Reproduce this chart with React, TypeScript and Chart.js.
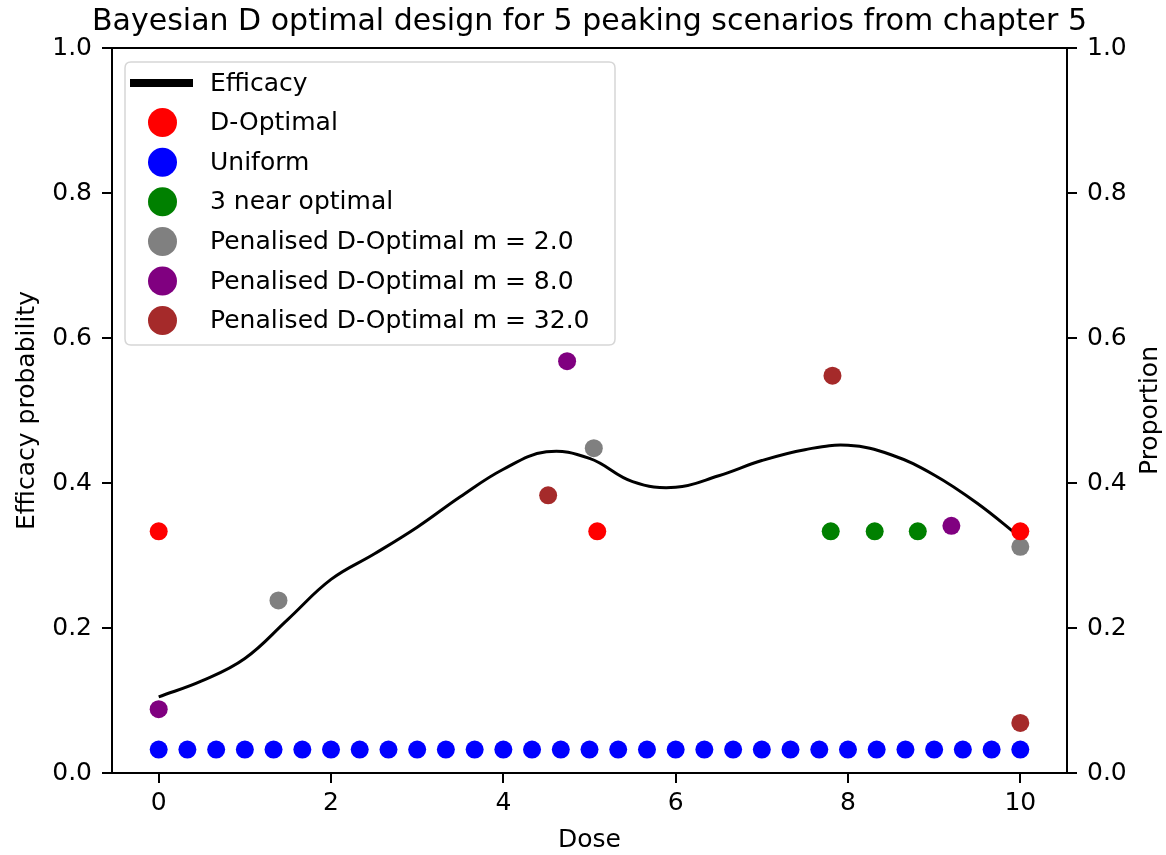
import React, { useEffect, useRef } from "react";
import { Chart, registerables } from "chart.js";

Chart.register(...registerables);

const TITLE = "Bayesian D optimal design for 5 peaking scenarios from chapter 5";
const X_TICKS = [0, 2, 4, 6, 8, 10];
const Y_TICKS = [0, 0.2, 0.4, 0.6, 0.8, 1.0];

const effDose = [0, 0.5, 1, 1.5, 2, 2.5, 3, 3.5, 4, 4.5, 5, 5.5, 6, 6.5, 7, 7.5, 8, 8.5, 9, 9.5, 10];
const effProb = [0.105, 0.127, 0.158, 0.212, 0.267, 0.302, 0.339, 0.381, 0.419, 0.443, 0.434, 0.402, 0.394, 0.410, 0.431, 0.446, 0.452, 0.439, 0.411, 0.372, 0.325];

const dOptDose = [0, 5.09, 10];
const dOptProp = [0.3333, 0.3333, 0.3333];

const uniformDose = [0, 0.333, 0.667, 1, 1.333, 1.667, 2, 2.333, 2.667, 3, 3.333, 3.667, 4, 4.333, 4.667, 5, 5.333, 5.667, 6, 6.333, 6.667, 7, 7.333, 7.667, 8, 8.333, 8.667, 9, 9.333, 9.667, 10];
const uniformProp = [0.0323, 0.0323, 0.0323, 0.0323, 0.0323, 0.0323, 0.0323, 0.0323, 0.0323, 0.0323, 0.0323, 0.0323, 0.0323, 0.0323, 0.0323, 0.0323, 0.0323, 0.0323, 0.0323, 0.0323, 0.0323, 0.0323, 0.0323, 0.0323, 0.0323, 0.0323, 0.0323, 0.0323, 0.0323, 0.0323, 0.0323];

const nearDose = [7.8, 8.31, 8.81];
const nearProp = [0.3333, 0.3333, 0.3333];

const pen2Dose = [1.39, 5.05, 10];
const pen2Prop = [0.238, 0.448, 0.312];

const pen8Dose = [0, 4.74, 9.2];
const pen8Prop = [0.088, 0.568, 0.341];

const pen32Dose = [4.52, 7.82, 10];
const pen32Prop = [0.383, 0.548, 0.069];

const FONT = "'DejaVu Sans', sans-serif";

const legendItems = [
  { label: "Efficacy", color: "#000000", line: true },
  { label: "D-Optimal", color: "#ff0000" },
  { label: "Uniform", color: "#0000ff" },
  { label: "3 near optimal", color: "#008000" },
  { label: "Penalised D-Optimal m = 2.0", color: "#808080" },
  { label: "Penalised D-Optimal m = 8.0", color: "#800080" },
  { label: "Penalised D-Optimal m = 32.0", color: "#a52a2a" },
];

const toPts = (xs: number[], ys: number[]) => xs.map((x, i) => ({ x, y: ys[i] }));

const decorPlugin = {
  id: "decor",
  afterDatasetsDraw(chart: any) {
    const { ctx, chartArea } = chart;
    ctx.save();
    ctx.strokeStyle = "#000";
    ctx.lineWidth = 2;
    ctx.strokeRect(chartArea.left, chartArea.top, chartArea.right - chartArea.left, chartArea.bottom - chartArea.top);
    ctx.restore();
  },
  afterDraw(chart: any) {
    const { ctx, chartArea } = chart;
    ctx.save();
    // title
    ctx.fillStyle = "#000";
    ctx.font = `30px ${FONT}`;
    ctx.textAlign = "center";
    ctx.textBaseline = "middle";
    ctx.fillText(TITLE, (chartArea.left + chartArea.right) / 2, 22);

    // right axis title (reads bottom to top)
    ctx.save();
    ctx.translate(1150, (chartArea.top + chartArea.bottom) / 2);
    ctx.rotate(-Math.PI / 2);
    ctx.font = `25px ${FONT}`;
    ctx.textAlign = "center";
    ctx.textBaseline = "middle";
    ctx.fillText("Proportion", 0, 0);
    ctx.restore();

    // legend box
    const bx = 125, by = 62, bw = 490, bh = 283, r = 6;
    ctx.beginPath();
    ctx.moveTo(bx + r, by);
    ctx.lineTo(bx + bw - r, by);
    ctx.quadraticCurveTo(bx + bw, by, bx + bw, by + r);
    ctx.lineTo(bx + bw, by + bh - r);
    ctx.quadraticCurveTo(bx + bw, by + bh, bx + bw - r, by + bh);
    ctx.lineTo(bx + r, by + bh);
    ctx.quadraticCurveTo(bx, by + bh, bx, by + bh - r);
    ctx.lineTo(bx, by + r);
    ctx.quadraticCurveTo(bx, by, bx + r, by);
    ctx.closePath();
    ctx.fillStyle = "rgba(255,255,255,0.8)";
    ctx.fill();
    ctx.strokeStyle = "#d6d6d6";
    ctx.lineWidth = 1.5;
    ctx.stroke();

    legendItems.forEach((it, i) => {
      const cy = 83 + i * 39.6;
      if (it.line) {
        ctx.strokeStyle = it.color;
        ctx.lineWidth = 8;
        ctx.lineCap = "butt";
        ctx.beginPath();
        ctx.moveTo(130, cy);
        ctx.lineTo(193, cy);
        ctx.stroke();
      } else {
        ctx.fillStyle = it.color;
        ctx.beginPath();
        ctx.arc(162.5, cy, 14.5, 0, Math.PI * 2);
        ctx.fill();
      }
      ctx.fillStyle = "#000";
      ctx.font = `25px ${FONT}`;
      ctx.textAlign = "left";
      ctx.textBaseline = "middle";
      ctx.fillText(it.label, 210, cy + 1);
    });
    ctx.restore();
  },
};

export default function App() {
  const ref = useRef<HTMLCanvasElement>(null);
  useEffect(() => {
    if (!ref.current) return;
    const scatter = (data: any, color: string) => ({
      type: "scatter" as const,
      data,
      yAxisID: "y2",
      backgroundColor: color,
      borderColor: color,
      borderWidth: 0,
      pointRadius: 9,
      showLine: false,
      order: 0,
    });
    const tickFont = { family: FONT, size: 25 };
    const chart = new Chart(ref.current, {
      type: "scatter",
      data: {
        datasets: [
          {
            type: "line",
            label: "Efficacy",
            data: toPts(effDose, effProb),
            yAxisID: "y",
            borderColor: "#000",
            borderWidth: 3,
            pointRadius: 0,
            fill: false,
            tension: 0.4,
            order: 10,
          } as any,
          { label: "D-Optimal", ...scatter(toPts(dOptDose, dOptProp), "#ff0000") },
          { label: "Uniform", ...scatter(toPts(uniformDose, uniformProp), "#0000ff") },
          { label: "3 near optimal", ...scatter(toPts(nearDose, nearProp), "#008000") },
          { label: "Penalised D-Optimal m = 2.0", ...scatter(toPts(pen2Dose, pen2Prop), "#808080") },
          { label: "Penalised D-Optimal m = 8.0", ...scatter(toPts(pen8Dose, pen8Prop), "#800080") },
          { label: "Penalised D-Optimal m = 32.0", ...scatter(toPts(pen32Dose, pen32Prop), "#a52a2a") },
        ],
      },
      options: {
        responsive: false,
        animation: false,
        layout: { padding: { top: 48, left: 0, right: 0, bottom: 0 } },
        plugins: { legend: { display: false }, tooltip: { enabled: false }, title: { display: false } },
        scales: {
          x: {
            type: "linear",
            position: "bottom",
            min: -0.542,
            max: 10.542,
            afterBuildTicks: (s: any) => { s.ticks = X_TICKS.map((v) => ({ value: v })); },
            afterFit: (s: any) => { s.height = 82; },
            ticks: { font: tickFont, color: "#000", padding: 5, autoSkip: false, maxRotation: 0, callback: (v: any) => String(v) },
            grid: { drawOnChartArea: false, drawTicks: true, tickLength: 10, color: "#000", lineWidth: 2 },
            border: { display: true, color: "#000", width: 2 },
            title: { display: true, text: "Dose", font: tickFont, color: "#000", padding: { top: 0, bottom: 0 } },
          },
          y: {
            type: "linear",
            position: "left",
            min: 0,
            max: 1,
            afterBuildTicks: (s: any) => { s.ticks = Y_TICKS.map((v) => ({ value: v })); },
            afterFit: (s: any) => { s.width = 112; },
            ticks: { font: tickFont, color: "#000", padding: 10, autoSkip: false, callback: (v: any) => Number(v).toFixed(1) },
            grid: { drawOnChartArea: false, drawTicks: true, tickLength: 10, color: "#000", lineWidth: 2 },
            border: { display: true, color: "#000", width: 2 },
            title: { display: true, text: "Efficacy probability", font: tickFont, color: "#000", padding: { top: 12, bottom: 0 } },
          },
          y2: {
            type: "linear",
            position: "right",
            min: 0,
            max: 1,
            afterBuildTicks: (s: any) => { s.ticks = Y_TICKS.map((v) => ({ value: v })); },
            afterFit: (s: any) => { s.width = 99; },
            ticks: { font: tickFont, color: "#000", padding: 10, autoSkip: false, callback: (v: any) => Number(v).toFixed(1) },
            grid: { drawOnChartArea: false, drawTicks: true, tickLength: 10, color: "#000", lineWidth: 2 },
            border: { display: true, color: "#000", width: 2 },
            title: { display: false },
          },
        },
      } as any,
      plugins: [decorPlugin],
    });
    return () => chart.destroy();
  }, []);
  return (
    <canvas
      ref={ref}
      width={1166}
      height={855}
      style={{ position: "fixed", left: 0, top: 0, width: 1166, height: 855, background: "#fff" }}
    />
  );
}
